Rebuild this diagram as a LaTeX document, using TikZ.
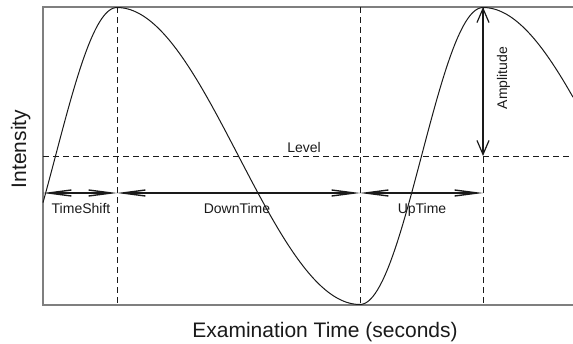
\documentclass[tikz,border=0pt]{standalone}
\usepackage{fontspec}
\setmainfont{Liberation Sans}
\usetikzlibrary{arrows.meta}
\definecolor{frameink}{HTML}{7F7F7F}
\definecolor{plotink}{HTML}{1A1A1A}
\newcommand{\labsize}{\fontsize{14}{16}\selectfont}
\newcommand{\axsize}{\fontsize{21}{25}\selectfont}

\begin{document}
\begin{tikzpicture}[
  x=1pt,
  y=-1pt,
  every node/.style={plotink, inner sep=0pt},
  frame/.style={frameink, line width=1.6pt},
  guide/.style={plotink, line width=0.8pt, dash pattern=on 6pt off 4pt},
  wave/.style={plotink, line width=1pt},
  spanarrow/.style={plotink, line width=1.4pt,
    {Straight Barb[length=23pt,width=6pt]}-{Straight Barb[length=23pt,width=6pt]}},
  amparrow/.style={plotink, line width=1.2pt,
    {Straight Barb[length=14pt,width=12pt]}-{Straight Barb[length=14pt,width=12pt]}},
  marklabel/.style={font=\labsize, anchor=base},
  axislabel/.style={font=\axsize, anchor=base}
]
  \useasboundingbox (0,0) rectangle (573,343);

  % ---- frame (open on the right) ----
  \draw[frame] (573,7) -- (43,7) -- (43,305) -- (573,305);

  % ---- guides: level and the three turning points ----
  \draw[guide] (43,156) -- (573,156);
  \foreach \t in {117,360,483}
    \draw[guide] (\t,7) -- (\t,305);

  % ---- the wave: slow fall (243), quick rise (123) ----
  \draw[wave] plot[domain=43:117, samples=40] (\x, {156+148.5*cos((\x+6)/123*180)});
  \draw[wave] plot[domain=117:360, samples=90] (\x, {156-148.5*cos((\x-117)/243*180)});
  \draw[wave] plot[domain=360:483, samples=50] (\x, {156+148.5*cos((\x-360)/123*180)});
  \draw[wave] plot[domain=483:573, samples=40] (\x, {156-148.5*cos((\x-483)/243*180)});

  % ---- span marks ----
  \coordinate (t0) at (43,193);
  \coordinate (t1) at (117,193);
  \coordinate (t2) at (360,193);
  \coordinate (t3) at (483,193);
  \coordinate (amptop) at (483,7);
  \coordinate (amplevel) at (483,156);

  \draw[spanarrow] (t0) -- (t1);
  \draw[spanarrow] (t1) -- (t2);
  \draw[spanarrow] (t2) -- (t3);
  \draw[amparrow] (amptop) -- (amplevel);

  % ---- labels ----
  \node[marklabel] (shiftlab) at (81,213) {TimeShift};
  \node[marklabel] (downlab) at (237,213) {DownTime};
  \node[marklabel] (uplab) at (422,213) {UpTime};
  \node[marklabel] (levellab) at (304,152.5) {Level};
  \node[marklabel, rotate=90] (amplab) at (507,78) {Amplitude};

  % ---- axis labels ----
  \node[axislabel] (xlab) at (325,337) {Examination Time (seconds)};
  \node[axislabel, rotate=90] (ylab) at (26,149) {Intensity};
\end{tikzpicture}
\end{document}
